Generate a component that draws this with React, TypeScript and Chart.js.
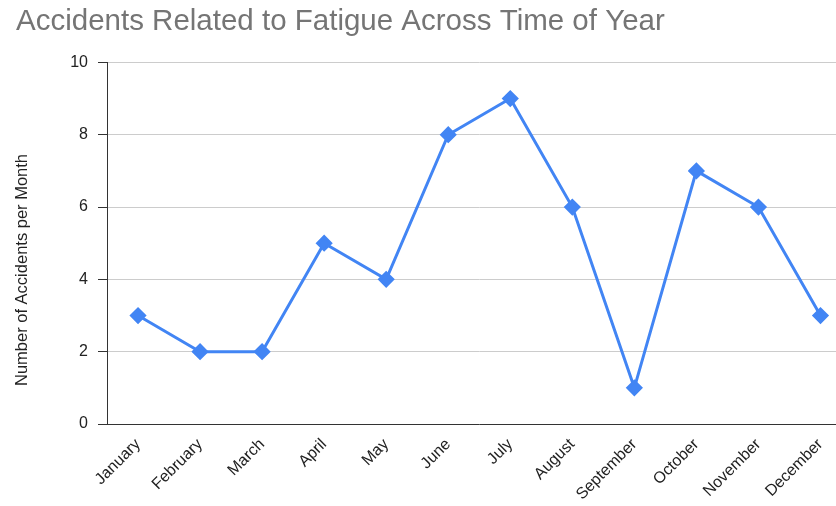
import React, { useEffect, useRef } from "react";
import { Chart, registerables } from "chart.js";

Chart.register(...registerables);

const months = [
  "January", "February", "March", "April", "May", "June",
  "July", "August", "September", "October", "November", "December",
];
const accidents = [3, 2, 2, 5, 4, 8, 9, 6, 1, 7, 6, 3];
const chartTitle = "Accidents Related to Fatigue Across Time of Year";
const yAxisTitle = "Number of Accidents per Month";

const FONT = "'Liberation Sans', Arial, sans-serif";

const yTitlePlugin = {
  id: "yTitlePlugin",
  afterDraw(chart: any) {
    const ctx = chart.ctx;
    ctx.save();
    ctx.translate(22, 270);
    ctx.rotate(-Math.PI / 2);
    ctx.font = `16.5px ${FONT}`;
    ctx.fillStyle = "#222222";
    ctx.textAlign = "center";
    ctx.textBaseline = "middle";
    ctx.fillText(yAxisTitle, 0, 0);
    ctx.restore();
  },
};

export default function App() {
  const ref = useRef<HTMLCanvasElement>(null);
  useEffect(() => {
    if (!ref.current) return;
    const chart = new Chart(ref.current, {
      type: "line",
      data: {
        labels: months,
        datasets: [
          {
            data: accidents,
            borderColor: "#4285F4",
            backgroundColor: "#4285F4",
            borderWidth: 3,
            pointStyle: "rectRot",
            pointRadius: 6.5,
            pointHoverRadius: 6.5,
            tension: 0,
          },
        ],
      },
      options: {
        responsive: false,
        animation: false,
        layout: { padding: { left: 16, top: 0, right: 0, bottom: 0 } },
        plugins: {
          legend: { display: false },
          tooltip: { enabled: false },
          title: {
            display: true,
            text: chartTitle,
            align: "start",
            color: "#757575",
            font: { family: FONT, size: 29.5, weight: "normal" },
            padding: { top: 4, bottom: 23 },
          },
        },
        scales: {
          x: {
            offset: true,
            grid: { display: false, drawTicks: false },
            border: { display: true, color: "#333333", width: 1 },
            ticks: {
              color: "#222222",
              font: { family: FONT, size: 16 },
              maxRotation: 45,
              minRotation: 45,
              padding: 11,
              autoSkip: false,
            },
            afterFit(scale: any) {
              scale.height = 82;
            },
          },
          y: {
            min: 0,
            max: 10,
            grid: {
              color: "#cccccc",
              tickColor: "#333333",
              tickLength: 9,
              lineWidth: 1,
            },
            border: { display: true, color: "#333333", width: 1 },
            ticks: {
              stepSize: 2,
              color: "#222222",
              font: { family: FONT, size: 16 },
              padding: 10,
            },
            afterFit(scale: any) {
              scale.width = 91;
            },
          },
        },
      },
      plugins: [yTitlePlugin],
    });
    return () => chart.destroy();
  }, []);
  return (
    <div
      style={{
        position: "fixed",
        left: 0,
        top: 0,
        width: 836,
        height: 506,
        overflow: "hidden",
        background: "#ffffff",
      }}
    >
      <canvas ref={ref} width={861} height={506} style={{ display: "block" }} />
    </div>
  );
}
